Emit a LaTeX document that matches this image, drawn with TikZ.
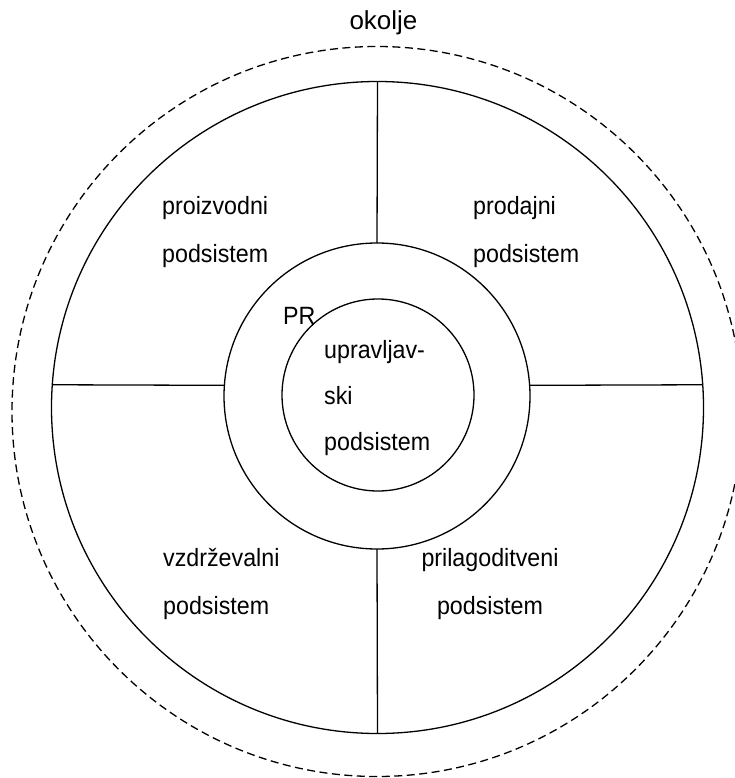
\documentclass[tikz,border=0pt]{standalone}
\usepackage{fontspec}
\setmainfont{Liberation Sans}
\newfontfamily\narrowsans[FakeStretch=0.93]{Liberation Sans}
\usetikzlibrary{backgrounds}

\begin{document}
\begin{tikzpicture}[
  x=1pt, y=-1pt,
  font=\narrowsans\fontsize{25}{48}\selectfont,
  ring/.style={circle, draw=black, line width=1.3pt, inner sep=0pt, outer sep=0pt},
  envring/.style={circle, draw=black, line width=1.3pt, dash pattern=on 8pt off 4.5pt, inner sep=0pt},
  spoke/.style={line width=1.3pt, draw=black},
  sublbl/.style={inner sep=0pt, anchor=base west, align=left},
]
\path[use as bounding box, fill=white] (0,0) rectangle (734,778);

% ── Rings: environment (dashed), system, PR ring, management core ───────────
\node[envring, minimum size=730pt] (env)   at (377,411.5) {};
\node[ring,    minimum size=652pt] (outer) at (377.5,407.5) {};
\node[ring,    minimum size=306pt] (mid)   at (377,396) {};
\node[ring,    minimum size=192pt] (core)  at (378,395) {};

% ── Spokes splitting the system into four subsystems ────────────────────────
\draw[spoke] (mid.north) -- (outer.north);
\draw[spoke] (mid.south) -- (outer.south);
\draw[spoke] (mid.176)   -- (outer.176);
\draw[spoke] (mid.4)     -- (outer.4);

% ── Labels ──────────────────────────────────────────────────────────────────
\node[inner sep=0pt, anchor=base, font=\rmfamily\fontsize{26}{30}\selectfont] (tenv) at (383.5,30) {okolje};
\node[sublbl] (tproiz) at (162,262) {proizvodni\\podsistem};
\node[sublbl] (tprod)  at (473,262) {prodajni\\podsistem};
\node[sublbl] (tvzdr)  at (163,614) {vzdrževalni\\podsistem};
\node[sublbl, anchor=base, align=center] (tpril) at (490,614) {prilagoditveni\\podsistem};
\node[sublbl] (tpr)    at (283,324) {PR};
\node[sublbl, font=\narrowsans\fontsize{25}{46}\selectfont] (tupr) at (324,450) {upravljav-\\ski\\podsistem};

\end{tikzpicture}
\end{document}
